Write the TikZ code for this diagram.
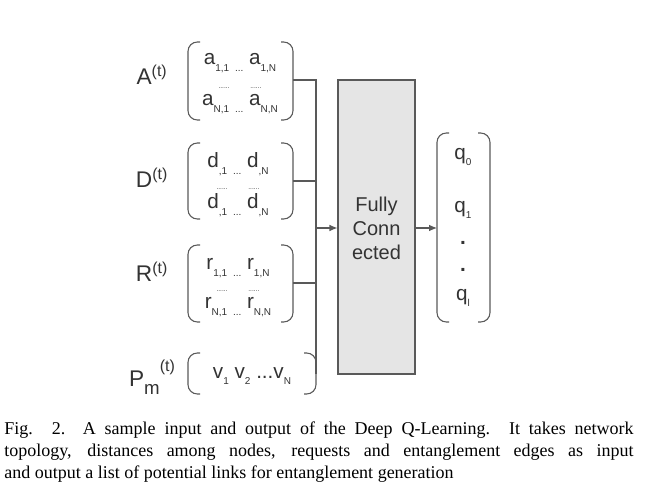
\documentclass[tikz,border=0pt]{standalone}
\usepackage{fontspec}
\setmainfont{Liberation Sans}
\newfontfamily\capfont{Liberation Serif}
\usetikzlibrary{arrows.meta}
\newcommand{\lo}[1]{\raisebox{-0.6ex}{\fontsize{7.5}{7.5}\selectfont #1}}
\newcommand{\dd}{\raisebox{0.3ex}{\fontsize{5}{5}\selectfont ......}}
\begin{document}
\begin{tikzpicture}[x=0.75pt,y=-0.75pt,
  txt/.style={text=black!80,inner sep=0pt},
  lab/.style={txt,font=\fontsize{17}{17}\selectfont},
  ent/.style={txt,font=\fontsize{15.5}{15.5}\selectfont},
  br/.style={draw=black!65,line width=0.8pt,rounded corners=7pt},
  ln/.style={draw=black!65,line width=0.8pt},
  arr/.style={ln,-{Latex[length=6pt,width=5pt]}}]
\useasboundingbox (0,0) rectangle (649,498);
\coordinate (A1) at (188,42); \coordinate (A2) at (293,120);
\coordinate (D1) at (188,143); \coordinate (D2) at (293,219);
\coordinate (R1) at (188,245); \coordinate (R2) at (293,322);
\coordinate (P1) at (188,353); \coordinate (P2) at (316,394);
\coordinate (Q1) at (437,133); \coordinate (Q2) at (490,322);
\foreach \a/\b in {A1/A2,D1/D2,R1/R2,P1/P2,Q1/Q2}{
  \draw[br] ([xshift=9]\a) -- (\a) -- (\a|-\b) -- ([xshift=9]\a|-\b);
  \draw[br] ([xshift=-9]\b|-\a) -- (\b|-\a) -- (\b) -- ([xshift=-9]\b);
}
\node[lab] (la) at (152,75) {A\textsuperscript{(t)}};
\node[lab] (ld) at (152,178) {D\textsuperscript{(t)}};
\node[lab] (lr) at (152,272) {R\textsuperscript{(t)}};
\node[lab] (lp) at (152,377) {P\lo{\fontsize{14}{14}\selectfont m}\raisebox{1.3ex}{\fontsize{12}{12}\selectfont (t)}};
\node[ent] (a1) at (240,63) {a\lo{1,1} \lo{...} a\lo{1,N}};
\node[txt] (a2) at (240,89) {\dd\quad\ \ \dd};
\node[ent] (a3) at (240,104) {a\lo{N,1} \lo{...} a\lo{N,N}};
\node[ent] (d1) at (238,164) {d\lo{,1} \lo{...} d\lo{,N}};
\node[txt] (d2) at (238,190) {\dd\quad\ \ \dd};
\node[ent] (d3) at (238,205) {d\lo{,1} \lo{...} d\lo{,N}};
\node[ent] (r1) at (238,268) {r\lo{1,1} \lo{...} r\lo{1,N}};
\node[txt] (r2) at (238,292) {\dd\quad\ \ \dd};
\node[ent] (r3) at (238,307) {r\lo{N,1} \lo{...} r\lo{N,N}};
\node[ent] (v) at (252,376) {v\lo{1} v\lo{2} ...v\lo{N}};
\node[draw=black!65,line width=0.8pt,fill=black!10,minimum width=77*0.75pt,minimum height=294*0.75pt,inner sep=0pt] (fc) at (376.5,227) {};
\node[txt,align=center,font=\fontsize{15}{18}\selectfont] (fct) at (376.5,228) {Fully\\Conn\\ected};
\node[ent] (q0) at (463,157) {q\lo{0}};
\node[ent] (q1) at (463,210) {q\lo{1}};
\node[ent] (qd1) at (463,243) {\textbf{.}};
\node[ent] (qd2) at (463,270) {\textbf{.}};
\node[ent] (ql) at (463,298) {q\lo{l}};
\coordinate (j) at (316,228);
\coordinate (jt) at (316,80);
\coordinate (jb) at (316,374);
\draw[ln] (293,80) -- (jt) -- (jb) -- (P2|-jb);
\draw[ln] (293,181) -- (316,181);
\draw[ln] (293,283) -- (316,283);
\draw[arr] (j) -- (fc.west|-j);
\draw[arr] (fc.east|-j) -- (Q1|-j);
\node[anchor=north west,inner sep=0pt,text width=472pt,align=justify,font=\capfont\fontsize{13.5}{16.5}\selectfont] (cap) at (4,422)
{\hyphenpenalty=10000 Fig. 2.\ \ A sample input and output of the Deep Q-Learning. It takes network\linebreak topology, distances among nodes, requests and entanglement edges as input\linebreak and output a list of potential links for entanglement generation};
\end{tikzpicture}
\end{document}
